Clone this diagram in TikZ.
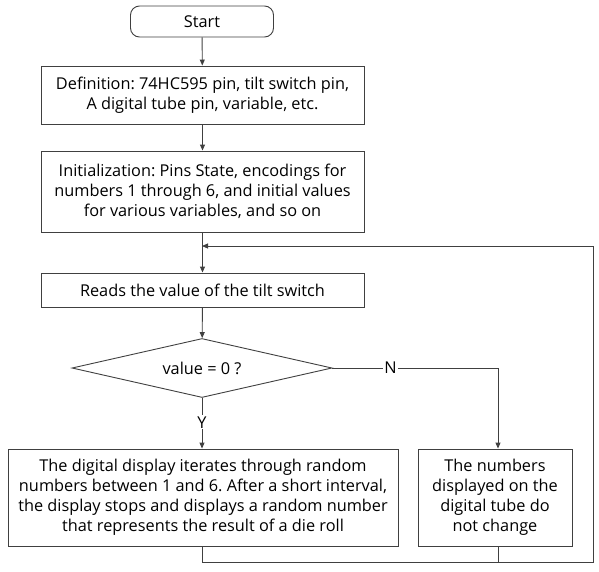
\documentclass[tikz,border=0pt]{standalone}
\usepackage{fontspec}
\setmainfont{Open Sans}
\usetikzlibrary{shapes.geometric,arrows.meta}
\definecolor{ln}{HTML}{404040}
\frenchspacing
\begin{document}
\begin{tikzpicture}[x=1pt,y=-1pt,
  every node/.style={font=\fontsize{16.3}{20}\selectfont, text=black},
  box/.style={draw=ln, line width=0.9pt, fill=white, align=center, inner sep=0pt},
  term/.style={box, rounded corners=9pt},
  dec/.style={draw=ln, line width=0.9pt, diamond, aspect=4.4, inner sep=0pt},
  conn/.style={draw=ln, line width=0.9pt},
  arr/.style={conn, -{Triangle[length=6pt,width=5pt]}},
  lbl/.style={fill=white, inner sep=1pt}]
\useasboundingbox (0,0) rectangle (599,571);
\node[term, minimum width=143pt, minimum height=31pt] (start) at (202,21.5) {Start};
\node[box, minimum width=323pt, minimum height=58pt] (def) at (202.5,95) {Definition: 74HC595 pin, tilt switch pin,\\A digital tube pin, variable, etc.};
\node[box, minimum width=323pt, minimum height=81pt] (init) at (202.5,191.5) {Initialization: Pins State, encodings for\\numbers 1 through 6, and initial values\\for various variables, and so on};
\node[box, minimum width=323pt, minimum height=34pt] (read) at (202.5,290) {Reads the value of the tilt switch};
\node[dec, minimum width=260pt, minimum height=59pt] (q) at (202,368) {value = 0 ?};
\node[box, minimum width=390pt, minimum height=97pt] (yes) at (203,497.5) {The digital display iterates through random\\numbers between 1 and 6. After a short interval,\\the display stops and displays a random number\\that represents the result of a die roll};
\node[box, minimum width=154pt, minimum height=97pt] (no) at (495,497.5) {The numbers\\displayed on the\\digital tube do\\not change};
\coordinate (loop) at (202,246);
\coordinate (bl) at (202,562);
\coordinate (br) at (593,562);
\coordinate (tr) at (593,246);
\coordinate (nc) at (498,368);
\draw[arr] (start) -- (def);
\draw[arr] (def) -- (init);
\draw[arr] (init) -- (read);
\draw[arr] (read) -- (q);
\draw[arr] (q.south) -- node[lbl, pos=0.48] {Y} (yes.north -| q.south);
\draw[arr] (q.east) -- node[lbl, pos=0.35] {N} (nc) -- (no.north -| nc);
\draw[conn] (yes.south -| bl) -- (bl) -- (br) -- (tr);
\draw[arr] (tr) -- (loop);
\draw[conn] (no.south -| nc) -- (nc |- bl);
\end{tikzpicture}
\end{document}
